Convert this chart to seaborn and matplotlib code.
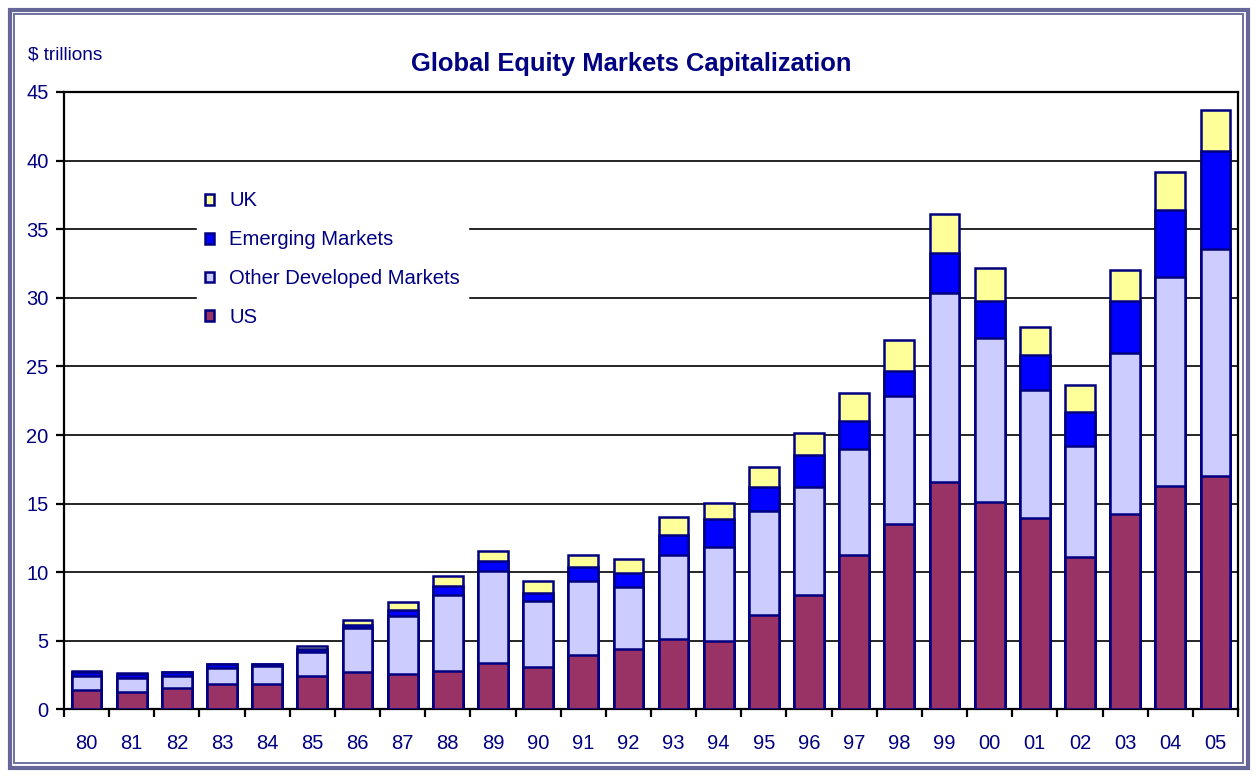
import numpy as np
import pandas as pd
import matplotlib
matplotlib.use("Agg")
import matplotlib.pyplot as plt
from matplotlib.patches import Patch, Rectangle
import seaborn as sns

# === Data ($ trillions) ===
years = ["80", "81", "82", "83", "84", "85", "86", "87", "88", "89", "90", "91", "92",
         "93", "94", "95", "96", "97", "98", "99", "00", "01", "02", "03", "04", "05"]
us = [1.41, 1.28, 1.58, 1.85, 1.85, 2.43, 2.72, 2.58, 2.82, 3.40, 3.10, 3.96, 4.42,
      5.15, 4.98, 6.87, 8.35, 11.25, 13.50, 16.56, 15.12, 13.93, 11.14, 14.23, 16.29, 17.02]
other_dev = [1.04, 0.98, 0.85, 1.14, 1.31, 1.73, 3.21, 4.22, 5.53, 6.67, 4.79, 5.38, 4.48,
             6.11, 6.84, 7.57, 7.89, 7.75, 9.37, 13.77, 11.98, 9.35, 8.05, 11.73, 15.23, 16.56]
emerging = [0.30, 0.34, 0.29, 0.31, 0.14, 0.24, 0.22, 0.45, 0.62, 0.73, 0.58, 1.02, 1.03,
            1.43, 2.06, 1.75, 2.34, 2.05, 1.79, 2.95, 2.68, 2.55, 2.52, 3.82, 4.88, 7.12]
uk = [0.03, 0.03, 0.03, 0.05, 0.05, 0.22, 0.35, 0.55, 0.73, 0.75, 0.89, 0.89, 1.04,
      1.36, 1.17, 1.51, 1.58, 2.05, 2.29, 2.82, 2.42, 2.02, 1.92, 2.27, 2.80, 3.00]

series = ["US", "Other Developed Markets", "Emerging Markets", "UK"]
colors = {"US": "#993366", "Other Developed Markets": "#CCCCFF",
          "Emerging Markets": "#0000FF", "UK": "#FFFF99"}
NAVY = "#000080"

df = pd.DataFrame({"year": years, "US": us, "Other Developed Markets": other_dev,
                   "Emerging Markets": emerging, "UK": uk})
cum = df[series].cumsum(axis=1)
cum["year"] = df["year"]

sns.set_theme(style="white")
plt.rcParams["font.family"] = ["Liberation Sans", "DejaVu Sans"]

fig = plt.figure(figsize=(12.57, 7.77), dpi=100)
ax = fig.add_axes([0.0509, 0.0869, 0.934, 0.7947])

# stacked bars: draw cumulative totals, tallest first
for s in reversed(series):
    sns.barplot(data=cum, x="year", y=s, color=colors[s], saturation=1,
                edgecolor=NAVY, linewidth=1.8, width=0.66, ax=ax, zorder=3)

ax.set_ylim(0, 45)
ax.set_xlim(-0.5, len(years) - 0.5)
ax.set_yticks(np.arange(0, 46, 5))
ax.set_xticks(np.arange(-0.5, len(years), 1))
ax.set_xticklabels([])
ax.set_xticks(np.arange(len(years)), minor=True)
ax.set_xticklabels(years, minor=True)
ax.set_xlabel("")
ax.set_ylabel("")

ax.set_axisbelow(True)
ax.yaxis.grid(True, color="black", linewidth=1.2)
ax.xaxis.grid(False)
for sp in ax.spines.values():
    sp.set_color("black")
    sp.set_linewidth(1.6)

ax.tick_params(axis="x", which="major", length=6, width=1.6, color="black", direction="out", bottom=True)
ax.tick_params(axis="x", which="minor", length=0, pad=18, labelsize=14.5, labelcolor=NAVY)
ax.tick_params(axis="y", length=6, width=1.6, color="black", direction="out", left=True,
               pad=5, labelsize=14.5, labelcolor=NAVY)

# legend (UK on top)
handles = [Patch(facecolor=colors[s], edgecolor=NAVY, linewidth=1.8) for s in reversed(series)]
leg = ax.legend(handles, list(reversed(series)), loc="upper left", bbox_to_anchor=(0.113, 0.852),
                borderaxespad=0, frameon=True, fancybox=False, framealpha=1, facecolor="white",
                edgecolor="white", fontsize=14.6, handlelength=0.45, handleheight=0.45,
                handletextpad=0.75, labelspacing=0.98, borderpad=0.4)
for t in leg.get_texts():
    t.set_color(NAVY)

fig.text(631.5 / 1257, 1 - 64 / 777, "Global Equity Markets Capitalization", ha="center",
         va="center", fontsize=18.4, fontweight="bold", color=NAVY)
fig.text(28 / 1257, 1 - 55 / 777, "$ trillions", ha="left", va="center", fontsize=13.7, color=NAVY)

# double frame round the chart
W, H = 1257, 777
fig.patches.append(Rectangle((9.5 / W, 9.5 / H), 1 - 19 / W, 1 - 19 / H, transform=fig.transFigure,
                             fill=False, edgecolor="#666699", linewidth=3))
fig.patches.append(Rectangle((14 / W, 14 / H), 1 - 28 / W, 1 - 28 / H, transform=fig.transFigure,
                             fill=False, edgecolor="#666699", linewidth=1.3))

fig.savefig("out.png", dpi=100)
